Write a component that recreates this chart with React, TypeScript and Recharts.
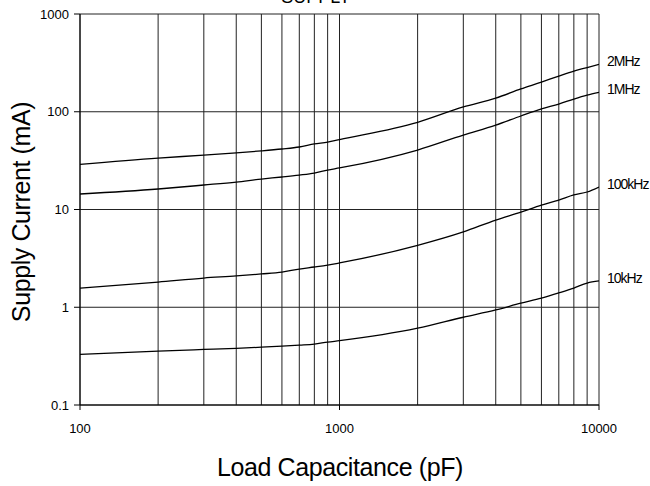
import React from 'react';
import {
    LineChart, Line, XAxis, YAxis, CartesianGrid, ReferenceLine, LabelList, Label
} from 'recharts';

const FONT = '"Liberation Sans", Arial, sans-serif';

// load capacitance (pF) sample points
const loadCap = [100, 200, 300, 400, 500, 600, 700, 800, 900, 1000, 2000, 3000, 4000, 5000, 6000, 7000, 8000, 9000, 10000];

// supply current (mA) per clock frequency
const mhz2 = [29, 33.6, 36, 38, 39.8, 41.6, 43.6, 46.8, 49, 52, 78, 112, 138, 171, 201, 232, 261, 283, 306];
const mhz1 = [14.4, 16.2, 17.8, 19.1, 20.5, 21.5, 22.5, 23.6, 25.3, 26.6, 40.6, 57.8, 73, 90.5, 107, 120, 135, 148, 158];
const khz100 = [1.57, 1.81, 1.99, 2.09, 2.19, 2.29, 2.46, 2.58, 2.7, 2.84, 4.3, 5.9, 7.8, 9.4, 11.1, 12.5, 14.1, 15.1, 17];
const khz10 = [0.33, 0.356, 0.37, 0.38, 0.39, 0.4, 0.41, 0.42, 0.44, 0.455, 0.61, 0.79, 0.94, 1.1, 1.24, 1.4, 1.57, 1.77, 1.86];

const seriesNames = ['2MHz', '1MHz', '100kHz', '10kHz'];
const seriesKeys = ['mhz2', 'mhz1', 'khz100', 'khz10'];

const xTicks = [100, 1000, 10000];
const yTicks = [0.1, 1, 10, 100, 1000];
const xGrid = [100, 200, 300, 400, 500, 600, 700, 800, 900, 1000, 2000, 3000, 4000, 5000, 6000, 7000, 8000, 9000, 10000];

const data = loadCap.map((c, i) => ({
    cap: c,
    mhz2: mhz2[i],
    mhz1: mhz1[i],
    khz100: khz100[i],
    khz10: khz10[i],
}));

const lastIdx = loadCap.length - 1;

const makeEndLabel = (name: string) => (props: any) => {
    const { x, y, index } = props;
    if (index !== lastIdx) return null;
    return (
        <text x={x + 8} y={y - 3} dominantBaseline="central" fontSize={14}
            letterSpacing={-1} fontFamily={FONT} fill="#000">
            {name}
        </text>
    );
};

export default function App() {
    return (
        <div style={{ position: 'absolute', left: 0, top: 0, width: 650, height: 486, background: '#fff', fontFamily: FONT }}>
            <div style={{
                position: 'absolute', left: 0, width: 632, top: -11.7, textAlign: 'center',
                fontSize: 18, lineHeight: 1, fontFamily: FONT, color: '#000'
            }}>
                SUPPLY
            </div>
            <LineChart width={650} height={486} data={data}
                margin={{ top: 14, right: 51, left: 0, bottom: 0 }}>
                <CartesianGrid vertical={false} stroke="#222" strokeDasharray="" />
                {xGrid.map(v => (
                    <ReferenceLine key={v} x={v} stroke="#222" strokeWidth={1} ifOverflow="extendDomain" />
                ))}
                <XAxis dataKey="cap" type="number" scale="log" domain={[100, 10000]} ticks={xTicks}
                    allowDataOverflow height={81} tickSize={5} tickMargin={14}
                    axisLine={{ stroke: '#000' }} tickLine={{ stroke: '#000' }}
                    tick={{ fontSize: 13, fill: '#000', fontFamily: FONT }}>
                    <Label content={() => (
                        <text x={340} y={476} textAnchor="middle" fontSize={25} letterSpacing={-0.4}
                            fontFamily={FONT} fill="#000">Load Capacitance (pF)</text>
                    )} />
                </XAxis>
                <YAxis type="number" scale="log" domain={[0.1, 1000]} ticks={yTicks} allowDataOverflow
                    width={80} tickSize={6} tickMargin={5}
                    axisLine={{ stroke: '#000' }} tickLine={{ stroke: '#000' }}
                    tick={{ fontSize: 13, fill: '#000', fontFamily: FONT }}>
                    <Label content={() => (
                        <text x={30} y={212} transform="rotate(-90 30 212)" textAnchor="middle" fontSize={25}
                            letterSpacing={-0.4} fontFamily={FONT} fill="#000">Supply Current (mA)</text>
                    )} />
                </YAxis>
                {seriesKeys.map((k, i) => (
                    <Line key={k} dataKey={k} type="monotone" stroke="#000" strokeWidth={1.3}
                        dot={false} activeDot={false} isAnimationActive={false}>
                        <LabelList dataKey={k} content={makeEndLabel(seriesNames[i])} />
                    </Line>
                ))}
            </LineChart>
        </div>
    );
}
